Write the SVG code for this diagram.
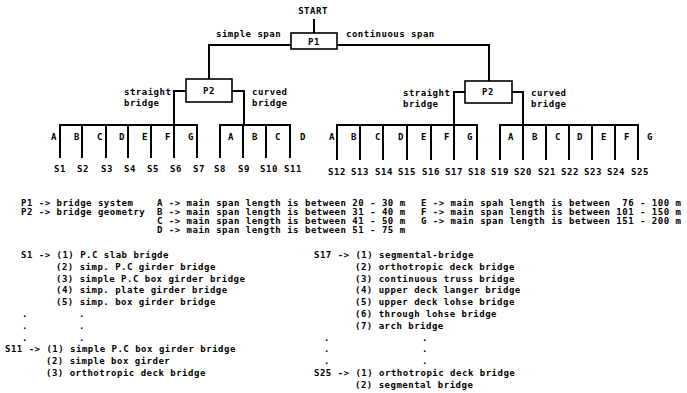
<svg xmlns="http://www.w3.org/2000/svg" width="687" height="393" viewBox="0 0 687 393">
<style>
text{font-family:"DejaVu Sans Mono","Liberation Mono",monospace;font-size:9px;font-weight:bold;letter-spacing:0.5px;fill:#000;white-space:pre}
.m{text-anchor:middle}
.ln{fill:none;stroke:#000;stroke-width:2}
.bx{fill:#fff;stroke:#000;stroke-width:1.6}
</style>
<rect width="687" height="393" fill="#fff"/>
<g id="connectors">
<path class="ln" d="M314,19V33"/>
<path class="ln" d="M291,45H209V79"/>
<path class="ln" d="M337,45H489V81"/>
<path class="ln" d="M186,91H174V125"/>
<path class="ln" d="M232,91H244V125"/>
<path class="ln" d="M465,92H454V125"/>
<path class="ln" d="M512,92H523V125"/>
<path class="ln" d="M60,158V125H197V158M82,125V158M106,125V158M128,125V158M151,125V158M174,125V158"/>
<path class="ln" d="M220,158V125H290V158M243,125V158M266,125V158"/>
<path class="ln" d="M337,160V125H477V160M360,125V160M383,125V160M407,125V160M431,125V160M454,125V160"/>
<path class="ln" d="M500,160V125H638V160M523,125V160M546,125V160M569,125V160M592,125V160M615,125V160"/>
</g>
<g id="start"><text class="m" x="313" y="14">START</text></g>
<g id="P1">
<rect class="bx" x="291" y="33" width="46" height="16"/>
<text class="m" x="314" y="45">P1</text>
</g>
<g id="edge-labels-top">
<text x="216" y="37">simple span</text>
<text x="346" y="37">continuous span</text>
</g>
<g id="P2-left">
<rect class="bx" x="186" y="79" width="46" height="23"/>
<text class="m" x="209" y="94">P2</text>
<text x="124" y="95">straight</text>
<text x="124" y="106">bridge</text>
<text x="252" y="95">curved</text>
<text x="252" y="106">bridge</text>
</g>
<g id="P2-right">
<rect class="bx" x="465" y="81" width="47" height="22"/>
<text class="m" x="488" y="95">P2</text>
<text x="403" y="96">straight</text>
<text x="403" y="107">bridge</text>
<text x="531" y="96">curved</text>
<text x="531" y="107">bridge</text>
</g>
<g id="leaf-letters">
<text class="m" x="54" y="140">A</text><text class="m" x="77" y="140">B</text><text class="m" x="100" y="140">C</text><text class="m" x="122" y="140">D</text><text class="m" x="145" y="140">E</text><text class="m" x="168" y="140">F</text><text class="m" x="191" y="140">G</text>
<text class="m" x="231" y="140">A</text><text class="m" x="255" y="140">B</text><text class="m" x="278" y="140">C</text><text class="m" x="303" y="140">D</text>
<text class="m" x="332" y="140">A</text><text class="m" x="354" y="140">B</text><text class="m" x="378" y="140">C</text><text class="m" x="401" y="140">D</text><text class="m" x="424" y="140">E</text><text class="m" x="447" y="140">F</text><text class="m" x="470" y="140">G</text>
<text class="m" x="511" y="140">A</text><text class="m" x="535" y="140">B</text><text class="m" x="558" y="140">C</text><text class="m" x="580" y="140">D</text><text class="m" x="604" y="140">E</text><text class="m" x="627" y="140">F</text><text class="m" x="650" y="140">G</text>
</g>
<g id="leaf-labels">
<text class="m" x="60" y="172">S1</text><text class="m" x="83" y="172">S2</text><text class="m" x="107" y="172">S3</text><text class="m" x="130" y="172">S4</text><text class="m" x="153" y="172">S5</text><text class="m" x="176" y="172">S6</text><text class="m" x="199" y="172">S7</text><text class="m" x="220" y="172">S8</text><text class="m" x="244" y="172">S9</text><text class="m" x="269" y="172">S10</text><text class="m" x="293" y="172">S11</text>
<text class="m" x="337" y="175">S12</text><text class="m" x="360" y="175">S13</text><text class="m" x="384" y="175">S14</text><text class="m" x="407" y="175">S15</text><text class="m" x="431" y="175">S16</text><text class="m" x="454" y="175">S17</text><text class="m" x="477" y="175">S18</text><text class="m" x="500" y="175">S19</text><text class="m" x="523" y="175">S20</text><text class="m" x="547" y="175">S21</text><text class="m" x="570" y="175">S22</text><text class="m" x="593" y="175">S23</text><text class="m" x="616" y="175">S24</text><text class="m" x="640" y="175">S25</text>
</g>
<g id="legend">
<text x="21" y="206">P1 -> bridge system</text>
<text x="21" y="215">P2 -> bridge geometry</text>
<text x="157" y="206">A -> main span length is between 20 - 30 m</text>
<text x="157" y="215">B -> main span length is between 31 - 40 m</text>
<text x="157" y="224">C -> main span length is between 41 - 50 m</text>
<text x="157" y="233">D -> main span length is between 51 - 75 m</text>
<text x="421" y="206">E -> main spah length is between  76 - 100 m</text>
<text x="421" y="215">F -> main span length is between 101 - 150 m</text>
<text x="421" y="224">G -> main span length is between 151 - 200 m</text>
</g>
<g id="list-left">
<text x="21" y="258">S1 -> (1) P.C slab brigde</text>
<text x="56" y="270">(2) simp. P.C girder bridge</text>
<text x="56" y="282">(3) simple P.C box girder bridge</text>
<text x="56" y="293">(4) simp. plate girder bridge</text>
<text x="56" y="305">(5) simp. box girder bridge</text>
<text x="22" y="317">.</text><text x="79" y="317">.</text>
<text x="22" y="329">.</text><text x="79" y="329">.</text>
<text x="22" y="341">.</text><text x="79" y="341">.</text>
<text x="5" y="352">S11 -> (1) simple P.C box girder bridge</text>
<text x="46" y="364">(2) simple box girder</text>
<text x="46" y="376">(3) orthotropic deck bridge</text>
</g>
<g id="list-right">
<text x="314" y="258">S17 -> (1) segmental-bridge</text>
<text x="355" y="270">(2) orthotropic deck bridge</text>
<text x="355" y="282">(3) continuous truss bridge</text>
<text x="355" y="293">(4) upper deck langer bridge</text>
<text x="355" y="305">(5) upper deck lohse bridge</text>
<text x="355" y="317">(6) through lohse bridge</text>
<text x="355" y="329">(7) arch bridge</text>
<text x="324" y="341">.</text><text x="422" y="341">.</text>
<text x="324" y="352">.</text><text x="422" y="352">.</text>
<text x="324" y="364">.</text><text x="422" y="364">.</text>
<text x="314" y="376">S25 -> (1) orthotropic deck bridge</text>
<text x="355" y="388">(2) segmental bridge</text>
</g>
</svg>
